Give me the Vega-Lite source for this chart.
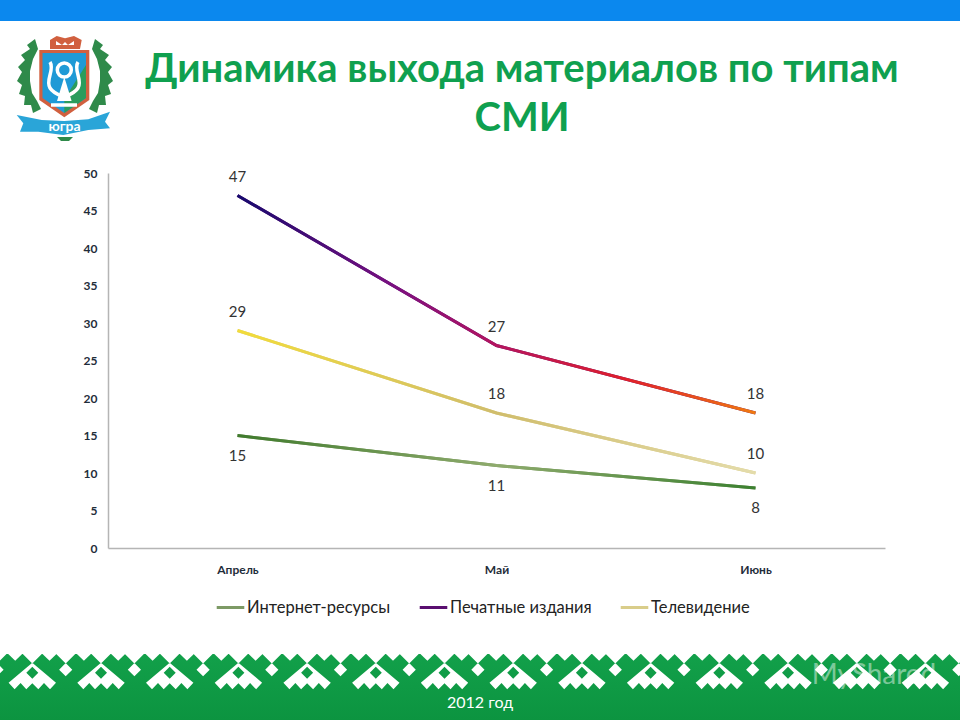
{"$schema":"https://vega.github.io/schema/vega-lite/v6.json","width":777,"height":375,"autosize":"none","padding":{"left":108,"top":173,"right":75,"bottom":172},"background":"#ffffff",
"config":{"view":{"stroke":null},"font":"Lato"},
"datasets":{
"bands":[{"part":"top","x":0,"x2":960,"y":0,"y2":21},{"part":"bottom","x":0,"x2":960,"y":654,"y2":720}],
"headline":[{"x":522,"y":70,"text":"Динамика выхода материалов по типам"},{"x":522,"y":119,"text":"СМИ"}],
"captions":[{"x":480,"y":703,"text":"2012 год"}],
"marks":[{"x":874,"y":676,"text":"MyShared"}],
"crest":[{"x":65,"y":85}],
"crestText":[{"x":64.5,"y":127,"text":"югра"}],
"apexes":[{"x":32.3,"y":654},{"x":101,"y":654},{"x":169.7,"y":654},{"x":238.4,"y":654},{"x":307.1,"y":654},{"x":375.8,"y":654},{"x":444.5,"y":654},{"x":513.2,"y":654},{"x":581.9,"y":654},{"x":650.6,"y":654},{"x":719.3,"y":654},{"x":788,"y":654},{"x":856.7,"y":654},{"x":925.4,"y":654}],
"gems":[{"x":-3,"y":654},{"x":65.7,"y":654},{"x":134.4,"y":654},{"x":203.1,"y":654},{"x":271.8,"y":654},{"x":340.5,"y":654},{"x":409.2,"y":654},{"x":477.9,"y":654},{"x":546.6,"y":654},{"x":615.3,"y":654},{"x":684,"y":654},{"x":752.7,"y":654},{"x":821.4,"y":654},{"x":890.1,"y":654},{"x":958.8,"y":654}],
"notches":[{"x":15.2,"y":654},{"x":49.5,"y":654},{"x":83.9,"y":654},{"x":118.2,"y":654},{"x":152.6,"y":654},{"x":186.9,"y":654},{"x":221.3,"y":654},{"x":255.6,"y":654},{"x":290,"y":654},{"x":324.3,"y":654},{"x":358.7,"y":654},{"x":393,"y":654},{"x":427.4,"y":654},{"x":461.7,"y":654},{"x":496.1,"y":654},{"x":530.4,"y":654},{"x":564.8,"y":654},{"x":599.1,"y":654},{"x":633.5,"y":654},{"x":667.8,"y":654},{"x":702.2,"y":654},{"x":736.5,"y":654},{"x":770.9,"y":654},{"x":805.2,"y":654},{"x":839.6,"y":654},{"x":873.9,"y":654},{"x":908.3,"y":654},{"x":942.6,"y":654}],
"series":[
{"month":"Апрель","type":"Интернет-ресурсы","value":15},{"month":"Май","type":"Интернет-ресурсы","value":11},{"month":"Июнь","type":"Интернет-ресурсы","value":8},
{"month":"Апрель","type":"Печатные издания","value":47},{"month":"Май","type":"Печатные издания","value":27},{"month":"Июнь","type":"Печатные издания","value":18},
{"month":"Апрель","type":"Телевидение","value":29},{"month":"Май","type":"Телевидение","value":18},{"month":"Июнь","type":"Телевидение","value":10}]
},
"resolve":{"scale":{"x":"independent","y":"independent","color":"independent"}},
"layer":[
{"encoding":{"x":{"field":"x","type":"quantitative","scale":{"domain":[108,885],"zero":false,"nice":false},"axis":null},"y":{"field":"y","type":"quantitative","scale":{"domain":[548,173],"zero":false,"nice":false},"axis":null}},
"layer":[
{"data":{"name":"bands"},"transform":[{"filter":"datum.part=='top'"}],"mark":{"type":"rect","fill":"#0b88ee","clip":false},"encoding":{"x2":{"field":"x2"},"y2":{"field":"y2"}}},
{"data":{"name":"bands"},"transform":[{"filter":"datum.part=='bottom'"}],"mark":{"type":"rect","clip":false,"fill":{"gradient":"linear","x1":0,"y1":0,"x2":0,"y2":1,"stops":[{"offset":0,"color":"#12a04a"},{"offset":1,"color":"#0c9440"}]}},"encoding":{"x2":{"field":"x2"},"y2":{"field":"y2"}}},
{"data":{"name":"notches"},"mark":{"type":"point","filled":true,"fill":"#ffffff","opacity":1,"size":4,"shape":"M-7.5 -0.5 L0 6.7 L7.5 -0.5 Z"}},
{"data":{"name":"gems"},"mark":{"type":"point","filled":true,"fill":"#ffffff","opacity":1,"size":4,"shape":"M-10 -0.5 L0 9.5 L10 -0.5 Z M0 9 L6.6 15.7 L0 22.3 L-6.6 15.7 Z"}},
{"data":{"name":"apexes"},"mark":{"type":"point","filled":true,"fill":"#ffffff","opacity":1,"size":4,"shape":"M-10 -0.5 L0 9.5 L10 -0.5 Z M0 8.7 L23.7 28.7 L17.7 35.3 L11.7 29 L6 35.3 L0 29.3 L-6 35.3 L-11.7 29 L-17.7 35.3 L-23.7 28.7 Z M0 12.7 L-6 18.7 L0 24.7 L6 18.7 Z"}},
{"data":{"name":"marks"},"mark":{"type":"text","font":"Lato","fontSize":28,"color":"#ffffff","opacity":0.45,"align":"center","baseline":"middle"},"encoding":{"text":{"field":"text"}}},
{"data":{"name":"captions"},"mark":{"type":"text","font":"Lato","fontSize":16,"color":"#ffffff","align":"center","baseline":"middle"},"encoding":{"text":{"field":"text"}}},
{"data":{"name":"headline"},"mark":{"type":"text","font":"Lato","fontWeight":"bold","fontSize":40,"color":"#0fa04f","align":"center","baseline":"middle"},"encoding":{"text":{"field":"text"}}},
{"data":{"name":"crest"},"mark":{"type":"point","filled":true,"fill":"#2f8a4a","opacity":1,"size":4,"shape":"M-30 -46 L-38 -40 L-35 -36 L-44 -30 L-40 -25 L-47 -18 L-43 -13 L-48 -4 L-43 0 L-46 9 L-40 11 L-41 20 L-34 20 L-32 28 L-24 24 L-28 16 L-33 8 L-35 -4 L-35 -14 L-32 -26 L-27 -36 Z M30 -46 L38 -40 L35 -36 L44 -30 L40 -25 L47 -18 L43 -13 L48 -4 L43 0 L46 9 L40 11 L41 20 L34 20 L32 28 L24 24 L28 16 L33 8 L35 -4 L35 -14 L32 -26 L27 -36 Z"}},
{"data":{"name":"crest"},"mark":{"type":"point","filled":true,"fill":"#d1603f","opacity":1,"size":4,"shape":"M-15 -45 L-8.3 -49 L0 -46.7 L9 -49 L16.7 -45 L15 -36 L-15 -36 Z M-25.7 -35 L24.3 -35 L24.3 15 L-0.7 32.3 L-25.7 15 Z"}},
{"data":{"name":"crest"},"mark":{"type":"point","filled":true,"fill":"#ffffff","opacity":1,"size":4,"shape":"M-9 -44 L-3 -40 L0 -43 L3 -40 L9 -44 L9 -40 L-9 -40 Z"}},
{"data":{"name":"crest"},"mark":{"type":"point","filled":true,"fill":"#1f9ad6","opacity":1,"size":4,"shape":"M-22.5 -32 L21 -32 L21 13 L-0.7 28 L-22.5 13 Z"}},
{"data":{"name":"crest"},"mark":{"type":"point","filled":true,"fill":"#2a9c5c","opacity":1,"size":4,"shape":"M-0.7 14 L21 -20 L21 13 L-0.7 28 Z"}},
{"data":{"name":"crest"},"mark":{"type":"point","filled":false,"fill":null,"stroke":"#ffffff","strokeWidth":3.5,"opacity":1,"size":4,"shape":"M-15 -23 C-10 -15 -20 -5 -15 3 C-12 8 -6 10 -1 12 C4 10 10 8 13 3 C18 -5 8 -15 13 -23 M-0.7 -22 A7 7 0 1 0 -0.7 -8 A7 7 0 1 0 -0.7 -22 M-14 20 L12 20"}},
{"data":{"name":"crest"},"mark":{"type":"point","filled":true,"fill":"#ffffff","opacity":1,"size":4,"shape":"M-0.7 -8 L-8 16 L6.6 16 Z"}},
{"data":{"name":"crest"},"mark":{"type":"point","filled":true,"fill":"#2aa5d8","opacity":1,"size":4,"shape":"M-48.3 30 L-23.3 35 L-0.7 36 L23.3 34.3 L45 26.7 L40 36.7 L45 43.3 L23.3 45 L-1.7 50 L-26.7 46.7 L-45 46.7 L-41.7 38.3 Z"}},
{"data":{"name":"crest"},"mark":{"type":"point","filled":true,"fill":"#2f8a4a","opacity":1,"size":4,"shape":"M-8 52 L8 52 L4 56 L-4 56 Z"}},
{"data":{"name":"crestText"},"mark":{"type":"text","font":"Lato","fontWeight":"bold","fontSize":14,"color":"#ffffff","align":"center","baseline":"middle"},"encoding":{"text":{"field":"text"}}}
]},
{"data":{"name":"series"},
"encoding":{"x":{"field":"month","type":"ordinal","sort":["Апрель","Май","Июнь"],"scale":{"type":"point","padding":0.5},"axis":{"title":null,"labelAngle":0,"ticks":false,"domainColor":"#b5b5b5","domainWidth":1.5,"labelFont":"Lato","labelFontWeight":"bold","labelFontSize":12,"labelColor":"#1f2d3a","labelPadding":16,"grid":false}},
"y":{"field":"value","type":"quantitative","scale":{"domain":[0,50],"nice":false},"axis":{"title":null,"values":[0,5,10,15,20,25,30,35,40,45,50],"ticks":false,"domainColor":"#b5b5b5","domainWidth":1.5,"labelFont":"Lato","labelFontWeight":"bold","labelFontSize":12,"labelColor":"#1f2d3a","labelPadding":11,"grid":false}}},
"layer":[
{"mark":{"type":"line","strokeWidth":3},"encoding":{"color":{"field":"type","type":"nominal","scale":{"domain":["Интернет-ресурсы","Печатные издания","Телевидение"],"range":["#7d9a65","#5a0f70","#d9cd8a"]},"legend":{"orient":"none","legendX":107,"legendY":419,"direction":"horizontal","title":null,"symbolType":"stroke","symbolSize":760,"symbolStrokeWidth":3,"labelFont":"Lato","labelFontSize":16.5,"labelColor":"#222222","labelOffset":1,"columnPadding":22}}}},
{"transform":[{"filter":"datum.type=='Интернет-ресурсы'"}],"mark":{"type":"line","strokeWidth":3,"stroke":{"gradient":"linear","x1":0,"y1":0,"x2":1,"y2":0,"stops":[{"offset":0,"color":"#3f7a2d"},{"offset":0.5,"color":"#8fab6d"},{"offset":1,"color":"#3b8030"}]}}},
{"transform":[{"filter":"datum.type=='Печатные издания'"}],"mark":{"type":"line","strokeWidth":3,"stroke":{"gradient":"linear","x1":0,"y1":0,"x2":1,"y2":0,"stops":[{"offset":0,"color":"#150a6e"},{"offset":0.3,"color":"#7a1080"},{"offset":0.5,"color":"#b5145e"},{"offset":0.75,"color":"#e01f2a"},{"offset":1,"color":"#f07a10"}]}}},
{"transform":[{"filter":"datum.type=='Телевидение'"}],"mark":{"type":"line","strokeWidth":3,"stroke":{"gradient":"linear","x1":0,"y1":0,"x2":1,"y2":0,"stops":[{"offset":0,"color":"#f2dc3a"},{"offset":0.5,"color":"#d0bd6c"},{"offset":1,"color":"#e4dcab"}]}}},
{"transform":[{"filter":"datum.type!='Интернет-ресурсы'"}],"mark":{"type":"text","font":"Lato","fontSize":15,"color":"#333333","dy":-19},"encoding":{"text":{"field":"value","type":"quantitative"}}},
{"transform":[{"filter":"datum.type=='Интернет-ресурсы'"}],"mark":{"type":"text","font":"Lato","fontSize":15,"color":"#333333","dy":20},"encoding":{"text":{"field":"value","type":"quantitative"}}}
]}
]}
